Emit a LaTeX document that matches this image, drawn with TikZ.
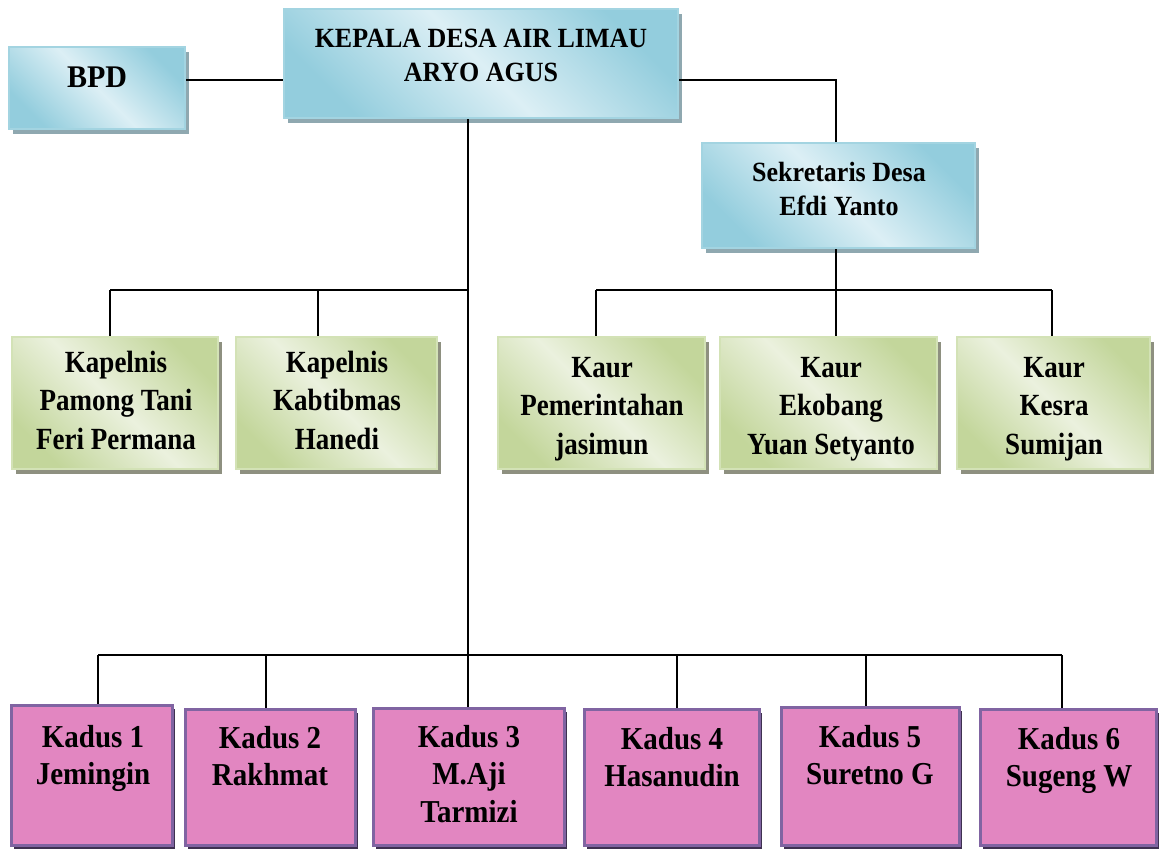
\documentclass[tikz,border=0pt]{standalone}
\usepackage{fontspec}
\setmainfont{Liberation Serif}
\usetikzlibrary{shadows}
\definecolor{bdark}{HTML}{93CDDD}
\definecolor{blight}{HTML}{DCEFF5}
\definecolor{bedge}{HTML}{A3D4E1}
\definecolor{bshadow}{HTML}{8FA8B0}
\definecolor{gdark}{HTML}{C3D69B}
\definecolor{glight}{HTML}{EBF1DE}
\definecolor{gedge}{HTML}{D3E2B6}
\definecolor{gshadow}{HTML}{8E9080}
\definecolor{pfill}{HTML}{E286C1}
\definecolor{pedge}{HTML}{8064A2}
\definecolor{pshadow}{HTML}{3F3151}
\newcommand{\ttab}[1]{\begin{tabular}[t]{@{}c@{}}#1\end{tabular}}
\newcommand{\tall}[2]{\scalebox{1}[#1]{\ttab{#2}}}
\begin{document}
\begin{tikzpicture}[x=1pt,y=-1pt,
  box/.style={line width=2pt, inner sep=0pt},
  bluebox/.style={box, draw=bedge, top color=bdark, bottom color=bdark, middle color=blight, shading angle=-45,
    drop shadow={shadow xshift=4pt, shadow yshift=-5pt, fill=bshadow, opacity=1}},
  greenbox/.style={box, draw=gedge, top color=gdark, bottom color=gdark, middle color=glight, shading angle=-45,
    drop shadow={shadow xshift=4pt, shadow yshift=-5pt, fill=gshadow, opacity=1}},
  pinkbox/.style={box, line width=3pt, draw=pedge, fill=pfill,
    drop shadow={shadow xshift=3pt, shadow yshift=-4pt, fill=pshadow, opacity=1}},
  conn/.style={line width=1.8pt, black},
  btxt/.style={anchor=base, inner sep=0pt, font=\bfseries\fontsize{26}{31.8}\selectfont},
  bpdtxt/.style={anchor=base, inner sep=0pt, font=\bfseries\fontsize{30}{36}\selectfont},
  gtxt/.style={anchor=base, inner sep=0pt, font=\bfseries\fontsize{27}{34.2}\selectfont},
  ptxt/.style={anchor=base, inner sep=0pt, font=\bfseries\fontsize{29}{34.5}\selectfont},
]
\useasboundingbox (0,0) rectangle (1160,849);

% boxes
\node[bluebox, minimum width=176pt, minimum height=82pt] (bpd) at (97,88) {};
\node[bluebox, minimum width=394pt, minimum height=109pt] (kep) at (481,63.5) {};
\node[bluebox, minimum width=273pt, minimum height=105pt] (sek) at (838.5,195.5) {};

\node[greenbox, minimum width=206pt, minimum height=132pt] (kp1) at (115,403) {};
\node[greenbox, minimum width=201pt, minimum height=132pt] (kp2) at (336.5,403) {};
\node[greenbox, minimum width=207pt, minimum height=132pt] (kr1) at (601.5,403) {};
\node[greenbox, minimum width=217pt, minimum height=132pt] (kr2) at (828.5,403) {};
\node[greenbox, minimum width=193pt, minimum height=132pt] (kr3) at (1053.5,403) {};

\node[pinkbox, minimum width=161pt, minimum height=140pt] (k1) at (91.5,775) {};
\node[pinkbox, minimum width=170pt, minimum height=136pt] (k2) at (270,777) {};
\node[pinkbox, minimum width=191pt, minimum height=137pt] (k3) at (468.5,776.5) {};
\node[pinkbox, minimum width=175pt, minimum height=136pt] (k4) at (671.5,777) {};
\node[pinkbox, minimum width=178pt, minimum height=138pt] (k5) at (870,776) {};
\node[pinkbox, minimum width=176pt, minimum height=136pt] (k6) at (1068,777) {};

% texts
\node[bpdtxt] (tbpd) at (97,87) {\scalebox{1}[1.05]{BPD}};
\node[btxt] (tkep) at (481,47) {\tall{1.07}{KEPALA DESA AIR LIMAU\\ARYO AGUS}};
\node[btxt] (tsek) at (839,181) {\tall{1.07}{Sekretaris Desa\\Efdi Yanto}};

\node[gtxt] (tkp1) at (116,372) {\tall{1.14}{Kapelnis\\Pamong Tani\\Feri Permana}};
\node[gtxt] (tkp2) at (337,372) {\tall{1.14}{Kapelnis\\Kabtibmas\\Hanedi}};
\node[gtxt] (tkr1) at (602,377) {\tall{1.14}{Kaur\\Pemerintahan\\jasimun}};
\node[gtxt] (tkr2) at (831,377) {\tall{1.14}{Kaur\\Ekobang\\Yuan Setyanto}};
\node[gtxt] (tkr3) at (1054,377) {\tall{1.14}{Kaur\\Kesra\\Sumijan}};

\node[ptxt] (tk1) at (93,747) {\tall{1.1}{Kadus 1\\Jemingin}};
\node[ptxt] (tk2) at (270,748) {\tall{1.1}{Kadus 2\\Rakhmat}};
\node[ptxt] (tk3) at (469,747) {\tall{1.1}{Kadus 3\\M.Aji\\Tarmizi}};
\node[ptxt] (tk4) at (672,749) {\tall{1.1}{Kadus 4\\Hasanudin}};
\node[ptxt] (tk5) at (870,747) {\tall{1.1}{Kadus 5\\Suretno G}};
\node[ptxt] (tk6) at (1069,749) {\tall{1.1}{Kadus 6\\Sugeng W}};

% connector coordinates
\coordinate (y80) at (0,80);
\coordinate (mx) at (468,0);
\coordinate (la) at (110,290);
\coordinate (lb) at (318,290);
\coordinate (lc) at (468,290);
\coordinate (ra) at (596,290);
\coordinate (rb) at (836,290);
\coordinate (rc) at (1052,290);
\coordinate (d1) at (98,655);
\coordinate (d2) at (266,655);
\coordinate (d3) at (468,655);
\coordinate (d4) at (677,655);
\coordinate (d5) at (866,655);
\coordinate (d6) at (1062,655);

% connectors
\draw[conn] (bpd.east |- y80) -- (kep.west |- y80);
\draw[conn] (kep.east |- y80) -| (rb |- sek.north);
\draw[conn] (kep.south -| mx) -- (k3.north -| mx);
\draw[conn] (la) -- (lc);
\draw[conn] (la) -- (la |- kp1.north);
\draw[conn] (lb) -- (lb |- kp2.north);
\draw[conn] (sek.south -| rb) -- (rb);
\draw[conn] (ra) -- (rc);
\draw[conn] (ra) -- (ra |- kr1.north);
\draw[conn] (rb) -- (rb |- kr2.north);
\draw[conn] (rc) -- (rc |- kr3.north);
\draw[conn] (d1) -- (d6);
\draw[conn] (d1) -- (d1 |- k1.north);
\draw[conn] (d2) -- (d2 |- k2.north);
\draw[conn] (d4) -- (d4 |- k4.north);
\draw[conn] (d5) -- (d5 |- k5.north);
\draw[conn] (d6) -- (d6 |- k6.north);
\end{tikzpicture}
\end{document}
